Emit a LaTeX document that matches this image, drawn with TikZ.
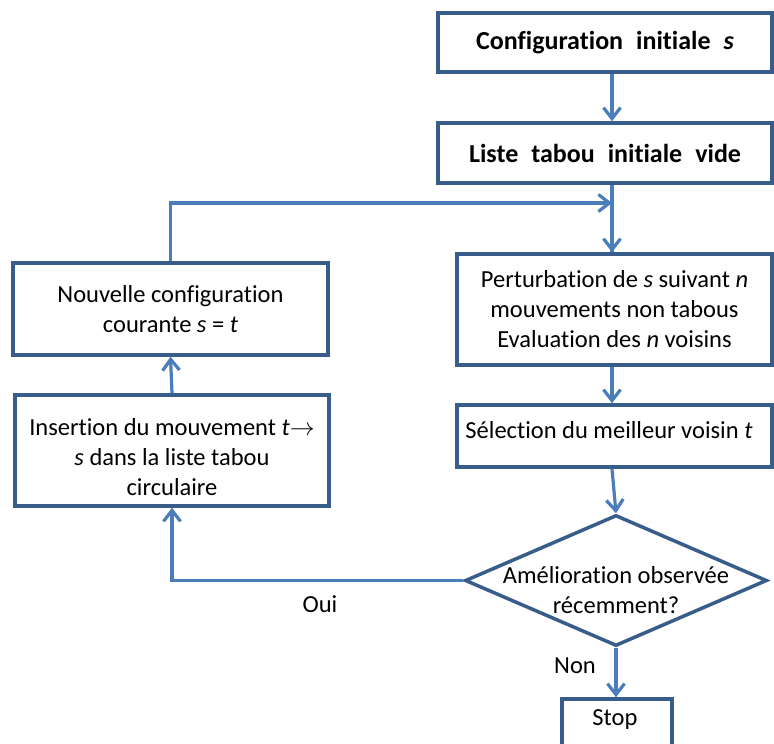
\documentclass[tikz,border=0pt]{standalone}
\usepackage{fontspec}
\setmainfont[Ligatures=NoCommon]{Carlito}
\usetikzlibrary{arrows.meta,shapes.geometric,calc}
\definecolor{boxblue}{RGB}{56,93,138}
\definecolor{lineblue}{RGB}{74,126,187}
\newcommand{\widesp}{\spaceskip=0.5em\relax}
\begin{document}
\begin{tikzpicture}[x=1pt,y=-1pt,
  box/.style={draw=boxblue,line width=3.5pt,rectangle,inner sep=0pt,align=center,font=\fontsize{24.5}{30}\selectfont},
  bbox/.style={box,font=\fontsize{26}{30}\selectfont\bfseries},
  dia/.style={draw=boxblue,line width=3.5pt,diamond,inner sep=0pt},
  txt/.style={align=center,inner sep=0pt,font=\fontsize{24.5}{30}\selectfont},
  conn/.style={draw=lineblue,line width=3.2pt},
  arr/.style={conn,-{Straight Barb[length=11pt,width=17pt]}}]
\useasboundingbox[fill=white] (0,0) rectangle (774,744);
\coordinate (col) at (612,0);
% boxes
\node[bbox,minimum width=334pt,minimum height=59pt] (b1) at (605,42.5) {\widesp Configuration initiale \textit{s}};
\node[bbox,minimum width=334pt,minimum height=60pt] (b2) at (605,153) {\widesp Liste tabou initiale vide};
\node[box,minimum width=315pt,minimum height=111pt] (b3) at (614.5,309.5) {Perturbation de \textit{s} suivant \textit{n}\\mouvements non tabous\\Evaluation des \textit{n} voisins};
\node[box,minimum width=315pt,minimum height=62pt] (b4) at (614.5,436) {};
\node[txt] (t4) at (609,430) {Sélection du meilleur voisin \textit{t}};
\node[box,minimum width=315pt,minimum height=92pt] (b5) at (170.5,309) {Nouvelle configuration\\courante \textit{s} = \textit{t}};
\node[box,minimum width=314pt,minimum height=111pt] (b6) at (172,450.5) {};
\node[txt] (t6) at (172,457) {Insertion du mouvement \textit{t}$\rightarrow$\\\textit{s} dans la liste tabou\\circulaire};
\node[dia,minimum width=302pt,minimum height=131pt] (d) at (616,580.5) {};
\node[txt] (td) at (616,590) {Amélioration observée\\récemment?};
\node[box,minimum width=110pt,minimum height=70pt] (st) at (617,734) {};
\node[txt] (tst) at (615,720) {Stop};
% connectors
\draw[arr] (b1.south -| col) -- (b2.north -| col);
\draw[conn] (b2.south -| col) -- (b3.north -| col);
\coordinate (j) at (612,203);
\draw[arr] (b5.north) |- (j);
\draw[arr] (j) -- (b3.north -| col);
\draw[arr] (b3.south -| col) -- (b4.north -| col);
\draw[arr] (b4.south -| col) -- (d.north);
\draw[arr] (d.south) -- (st.north -| d.south);
\draw[arr] (d.west) -| (b6.south);
\draw[arr] (b6.north) -- (b5.south);
% labels
\node[txt] (oui) at (320,604) {Oui};
\node[txt] (non) at (575,666) {Non};
\end{tikzpicture}
\end{document}
